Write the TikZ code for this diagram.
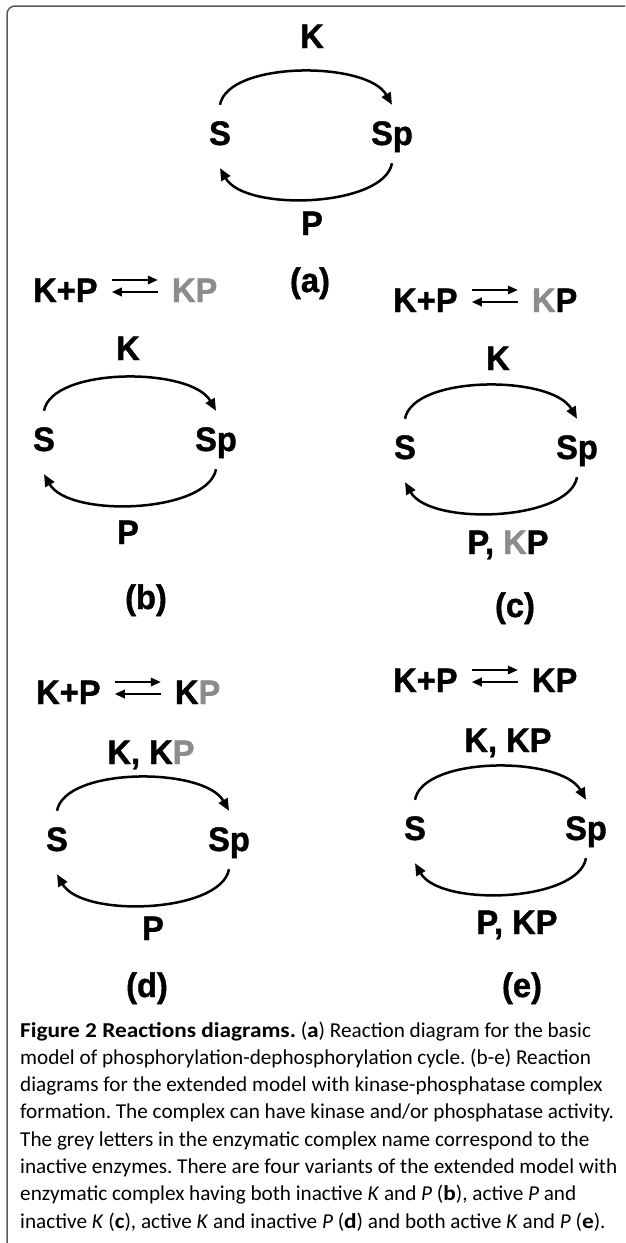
\documentclass[tikz,border=0pt]{standalone}
\usepackage{fontspec}
\setmainfont{Liberation Sans}
\newfontfamily\diagfont[FakeStretch=0.96,BoldFeatures={FakeBold=1.2,FakeStretch=0.96}]{Liberation Sans}
\newfontfamily\capfont[BoldFeatures={FakeStretch=1.1}]{Carlito}
\usetikzlibrary{arrows.meta,calc}
\definecolor{inact}{gray}{0.55}
\definecolor{framec}{gray}{0.35}
\tikzset{
  lbl/.style={font=\diagfont\fontsize{34}{34}\selectfont\bfseries, inner sep=0pt, text height=24pt, text depth=0pt},
  cyc/.style={line width=2.5pt, -{Triangle[length=12pt,width=10pt]}},
  eqarr/.style={line width=1.9pt, -{Triangle[length=10pt,width=8.5pt]}},
  capl/.style={anchor=base west, inner sep=0pt, font=\capfont\fontsize{21.2}{27}\selectfont},
}
\newcommand{\gk}{\textcolor{inact}{K}}
\newcommand{\gp}{\textcolor{inact}{P}}
\newcommand{\cycarcs}[2]{%
  \draw[cyc] ($(#1.north)+(0,-16)$) .. controls +(8,-44) and +(-25,-44) .. ($(#2.north)+(0,-16)$);
  \draw[cyc] ($(#2.south)+(0,18)$) .. controls +(-8,44) and +(25,44) .. ($(#1.south)+(0,23)$);}
\newcommand{\eqarrows}[2]{%
  \draw[eqarr] ($(#1.east)+(14,-10)$) -- ($(#2.west)+(-14,-10)$);
  \draw[eqarr] ($(#2.west)+(-14,2)$) -- ($(#1.east)+(14,2)$);}
\frenchspacing
\begin{document}
\begin{tikzpicture}[x=1pt,y=-1pt]
\useasboundingbox (0,0) rectangle (625,1243);
\draw[framec, line width=1.5pt, rounded corners=8pt] (625,6) -- (7,6) -- (7,1243);

% ---------- (a)
\node[lbl] (aK) at (312,36) {K};
\node[lbl] (aS) at (220,133) {S};
\node[lbl] (aSp) at (392,133) {Sp};
\node[lbl] (aP) at (312,223) {P};
\node[lbl] (aL) at (310,280) {(a)};
\cycarcs{aS}{aSp}

% ---------- (b)
\node[lbl, anchor=west] (bE) at (33,290) {K+P};
\node[lbl, anchor=west] (bC) at ($(bE.east)+(74,0)$) {\gk\gp};
\eqarrows{bE}{bC}
\node[lbl] (bK) at (128,348) {K};
\node[lbl] (bS) at (44,439) {S};
\node[lbl] (bSp) at (216,439) {Sp};
\node[lbl] (bP) at (128,532) {P};
\node[lbl] (bL) at (146,597) {(b)};
\cycarcs{bS}{bSp}

% ---------- (c)
\node[lbl, anchor=west] (cE) at (393,300) {K+P};
\node[lbl, anchor=west] (cC) at ($(cE.east)+(74,0)$) {\gk P};
\eqarrows{cE}{cC}
\node[lbl] (cK) at (498,358) {K};
\node[lbl] (cS) at (405,447) {S};
\node[lbl] (cSp) at (577,447) {Sp};
\node[lbl] (cP) at (508,542) {P, \gk P};
\node[lbl] (cL) at (515,605) {(c)};
\cycarcs{cS}{cSp}

% ---------- (d)
\node[lbl, anchor=west] (dE) at (36,692) {K+P};
\node[lbl, anchor=west] (dC) at ($(dE.east)+(74,0)$) {K\gp};
\eqarrows{dE}{dC}
\node[lbl] (dK) at (151,752) {K, K\gp};
\node[lbl] (dS) at (57,839) {S};
\node[lbl] (dSp) at (229,839) {Sp};
\node[lbl] (dP) at (153,928) {P};
\node[lbl] (dL) at (147,985) {(d)};
\cycarcs{dS}{dSp}

% ---------- (e)
\node[lbl, anchor=west] (eE) at (393,680) {K+P};
\node[lbl, anchor=west] (eC) at ($(eE.east)+(74,0)$) {KP};
\eqarrows{eE}{eC}
\node[lbl] (eK) at (508,740) {K, KP};
\node[lbl] (eS) at (415,828) {S};
\node[lbl] (eSp) at (586,828) {Sp};
\node[lbl] (eP) at (517,922) {P, KP};
\node[lbl] (eL) at (522,985) {(e)};
\cycarcs{eS}{eSp}

% ---------- caption
\node[capl] (cap1) at (20,1037) {\textbf{Figure 2 Reactions diagrams.} (\textbf{a}) Reaction diagram for the basic};
\node[capl] (cap2) at (20,1064.3) {model of phosphorylation-dephosphorylation cycle. (b-e) Reaction};
\node[capl] (cap3) at (20,1091.6) {diagrams for the extended model with kinase-phosphatase complex};
\node[capl] (cap4) at (20,1118.9) {formation. The complex can have kinase and/or phosphatase activity.};
\node[capl] (cap5) at (20,1146.2) {The grey letters in the enzymatic complex name correspond to the};
\node[capl] (cap6) at (20,1173.5) {inactive enzymes. There are four variants of the extended model with};
\node[capl] (cap7) at (20,1200.8) {enzymatic complex having both inactive \textit{K} and \textit{P} (\textbf{b}), active \textit{P} and};
\node[capl] (cap8) at (20,1228.1) {inactive \textit{K} (\textbf{c}), active \textit{K} and inactive \textit{P} (\textbf{d}) and both active \textit{K} and \textit{P} (\textbf{e}).};
\end{tikzpicture}
\end{document}
